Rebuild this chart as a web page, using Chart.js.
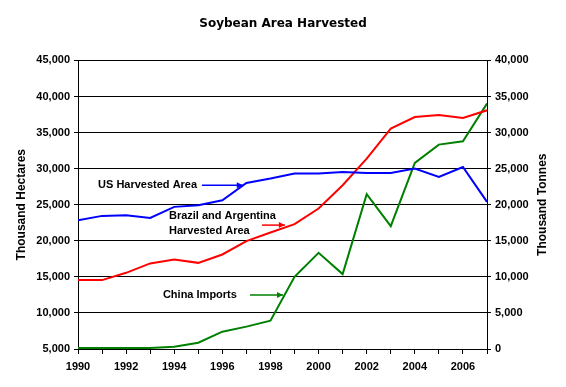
<!DOCTYPE html>
<html>
<head>
<meta charset="utf-8">
<script src="https://cdn.jsdelivr.net/npm/chart.js@4.4.1/dist/chart.umd.min.js"></script>
<style>
  html, body { margin: 0; padding: 0; background: #fff; }
  #wrap { width: 566px; height: 387px; }
</style>
</head>
<body>
<div id="wrap"><canvas id="c" width="566" height="387"></canvas></div>
<script>
// Soybean area harvested (thousand hectares) and China imports (thousand tonnes)
const years = [1990,1991,1992,1993,1994,1995,1996,1997,1998,1999,2000,2001,2002,2003,2004,2005,2006,2007];
const usArea = [22850,23450,23550,23170,24700,24930,25620,28020,28620,29310,29310,29540,29400,29400,30000,28850,30230,25390];
const brazilArgArea = [14550,14550,15560,16860,17400,16940,18100,19950,21150,22300,24470,27700,31390,35540,37150,37430,37020,38080];
const chinaImports = [150,150,150,150,320,870,2400,3100,3920,10010,13330,10380,21450,17020,25790,28330,28790,34010];

const leftTicks = [5000, 45000, 5000];   // min, max, step
const rightTicks = [0, 40000, 5000];
const axisTitles = ["Thousand Hectares", "Thousand Tonnes"];

// callouts: text lines, anchor (year, left-axis value), arrow from/to in data units
const callouts = [
  { lines: ["US Harvested Area"], textX: 1994.95, textY: 27700, align: "right",
    from: [1995.15, 27700], to: [1996.85, 27700], color: "#0000ff" },
  { lines: ["Brazil and Argentina", "Harvested Area"], textX: 1993.78, textY: 23410, align: "left",
    from: [1997.65, 22170], to: [1998.6, 22170], color: "#ff0000" },
  { lines: ["China Imports"], textX: 1993.53, textY: 12480, align: "left",
    from: [1997.15, 12480], to: [1998.52, 12480], color: "#008000" }
];

const pts = arr => years.map((y, i) => ({ x: y, y: arr[i] }));
const fmt = v => Number(v).toLocaleString("en-US");
const tickFont = { family: "Liberation Sans, Arial, sans-serif", size: 11, weight: "bold" };

const calloutPlugin = {
  id: "callouts",
  afterDatasetsDraw(chart) {
    const ctx = chart.ctx, xs = chart.scales.x, ys = chart.scales.y;
    const area = chart.chartArea;
    ctx.save();
    ctx.font = "bold 11px 'Liberation Sans', Arial, sans-serif";
    ctx.fillStyle = "#000";
    ctx.textBaseline = "middle";
    callouts.forEach(c => {
      ctx.textAlign = c.align;
      const tx = xs.getPixelForValue(c.textX), ty = ys.getPixelForValue(c.textY);
      c.lines.forEach((l, i) => ctx.fillText(l, tx, ty + i * 15));
      const x1 = xs.getPixelForValue(c.from[0]), y1 = ys.getPixelForValue(c.from[1]);
      const x2 = xs.getPixelForValue(c.to[0]), y2 = ys.getPixelForValue(c.to[1]);
      ctx.strokeStyle = c.color; ctx.fillStyle = c.color; ctx.lineWidth = 1.5;
      ctx.beginPath(); ctx.moveTo(x1, y1); ctx.lineTo(x2, y2); ctx.stroke();
      ctx.beginPath(); ctx.moveTo(x2, y2); ctx.lineTo(x2 - 6, y2 - 3); ctx.lineTo(x2 - 6, y2 + 3); ctx.closePath(); ctx.fill();
      ctx.fillStyle = "#000";
    });
    // axis titles, both read bottom-to-top
    ctx.font = "bold 12px 'Liberation Sans', Arial, sans-serif";
    ctx.textAlign = "center";
    const midY = (area.top + area.bottom) / 2;
    [[22, axisTitles[0]], [543, axisTitles[1]]].forEach(([x, t]) => {
      ctx.save();
      ctx.translate(x, midY);
      ctx.rotate(-Math.PI / 2);
      ctx.fillText(t, 0, 0);
      ctx.restore();
    });
    ctx.restore();
  }
};

new Chart(document.getElementById("c"), {
  type: "line",
  data: {
    datasets: [
      { label: "US Harvested Area", data: pts(usArea), borderColor: "#0000ff", yAxisID: "y" },
      { label: "Brazil and Argentina Harvested Area", data: pts(brazilArgArea), borderColor: "#ff0000", yAxisID: "y" },
      { label: "China Imports", data: pts(chinaImports), borderColor: "#008000", yAxisID: "y1" }
    ]
  },
  options: {
    responsive: false,
    animation: false,
    layout: { padding: 0 },
    elements: { line: { borderWidth: 2, tension: 0, fill: false }, point: { radius: 0 } },
    plugins: {
      legend: { display: false },
      tooltip: { enabled: false },
      title: {
        display: true, text: "Soybean Area Harvested", color: "#000",
        font: { family: "DejaVu Sans, Verdana, sans-serif", size: 12, weight: "bold" },
        padding: { top: 17, bottom: 29 }
      }
    },
    scales: {
      x: {
        type: "linear", min: years[0], max: years[years.length - 1],
        afterBuildTicks: s => { s.ticks = years.map(v => ({ value: v })); },
        afterFit: s => { s.height = 38; },
        ticks: { color: "#000", font: tickFont, autoSkip: false, maxRotation: 0, padding: 6,
                 callback: v => (v % 2 === 0 ? String(v) : "") },
        grid: { drawOnChartArea: false, drawTicks: true, tickLength: 5, color: "#000" },
        border: { color: "#000", width: 1 }
      },
      y: {
        position: "left", min: leftTicks[0], max: leftTicks[1],
        afterFit: s => { s.width = 78; },
        ticks: { stepSize: leftTicks[2], color: "#000", font: tickFont, padding: 4, callback: fmt },
        grid: { color: "#000", lineWidth: 1, drawTicks: true, tickLength: 4 },
        border: { color: "#000", width: 1 }
      },
      y1: {
        position: "right", min: rightTicks[0], max: rightTicks[1],
        afterFit: s => { s.width = 79; },
        ticks: { stepSize: rightTicks[2], color: "#000", font: tickFont, padding: 4, callback: fmt },
        grid: { drawOnChartArea: false, color: "#000", drawTicks: true, tickLength: 4 },
        border: { color: "#000", width: 1 }
      }
    }
  },
  plugins: [calloutPlugin]
});
</script>
</body>
</html>
